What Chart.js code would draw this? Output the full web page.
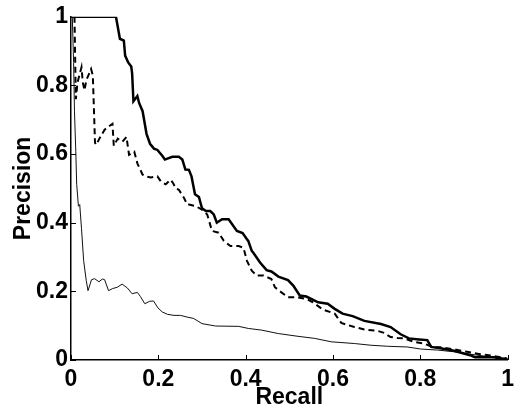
<!DOCTYPE html>
<html>
<head>
<meta charset="utf-8">
<script src="https://cdn.jsdelivr.net/npm/chart.js@4.4.1/dist/chart.umd.min.js"></script>
<style>
html,body{margin:0;padding:0;background:#fff;}
#wrap{width:520px;height:410px;}
</style>
</head>
<body>
<div id="wrap"><canvas id="c" width="520" height="410"></canvas></div>
<script>
// Thick solid curve
const recallA = [0,0.103,0.112,0.121,0.124,0.131,0.138,0.140,0.143,0.152,0.156,0.164,0.173,0.181,0.190,0.198,0.209,0.215,0.232,0.247,0.255,0.262,0.270,0.276,0.284,0.293,0.300,0.309,0.319,0.327,0.334,0.346,0.361,0.380,0.393,0.403,0.406,0.414,0.418,0.433,0.448,0.459,0.475,0.497,0.509,0.524,0.539,0.566,0.588,0.604,0.622,0.645,0.672,0.710,0.732,0.755,0.774,0.797,0.816,0.825,0.846,0.877,0.914,0.925,0.967,1.0];
const precisionA = [1,1,0.936,0.931,0.887,0.867,0.855,0.835,0.754,0.769,0.749,0.725,0.659,0.630,0.616,0.612,0.595,0.584,0.592,0.592,0.584,0.555,0.554,0.535,0.483,0.475,0.442,0.434,0.434,0.424,0.400,0.410,0.410,0.376,0.370,0.352,0.347,0.318,0.312,0.284,0.262,0.258,0.243,0.233,0.217,0.188,0.185,0.168,0.164,0.149,0.135,0.128,0.114,0.105,0.096,0.075,0.063,0.060,0.058,0.038,0.034,0.027,0.014,0.008,0.008,0.002];

// Dashed curve
const recallB = [0.008,0.011,0.015,0.024,0.027,0.031,0.035,0.041,0.046,0.050,0.052,0.055,0.058,0.065,0.077,0.088,0.095,0.098,0.107,0.118,0.127,0.133,0.145,0.152,0.164,0.172,0.183,0.198,0.206,0.217,0.228,0.234,0.240,0.247,0.255,0.259,0.266,0.270,0.286,0.300,0.312,0.323,0.338,0.350,0.365,0.384,0.395,0.403,0.414,0.425,0.441,0.459,0.467,0.482,0.497,0.516,0.539,0.554,0.577,0.604,0.619,0.649,0.672,0.702,0.717,0.732,0.748,0.763,0.786,0.808,0.831,0.846,0.877,0.907,0.937,0.967,1.0];
const precisionB = [1.0,0.760,0.809,0.853,0.809,0.786,0.815,0.833,0.848,0.829,0.751,0.633,0.627,0.645,0.671,0.682,0.688,0.624,0.645,0.636,0.650,0.598,0.607,0.573,0.540,0.535,0.532,0.535,0.520,0.512,0.525,0.515,0.500,0.496,0.480,0.472,0.453,0.453,0.448,0.438,0.424,0.376,0.371,0.347,0.332,0.332,0.327,0.289,0.260,0.246,0.246,0.236,0.212,0.197,0.183,0.183,0.178,0.168,0.147,0.135,0.108,0.096,0.089,0.085,0.079,0.067,0.064,0.063,0.053,0.048,0.037,0.037,0.031,0.024,0.017,0.012,0.004];

// Thin solid curve
const recallC = [0.003,0.006,0.008,0.011,0.013,0.017,0.020,0.024,0.029,0.035,0.039,0.047,0.054,0.064,0.072,0.077,0.086,0.095,0.106,0.117,0.129,0.140,0.152,0.159,0.169,0.180,0.189,0.199,0.209,0.221,0.236,0.251,0.266,0.281,0.300,0.331,0.384,0.406,0.437,0.475,0.520,0.558,0.596,0.649,0.687,0.725,0.770,0.801,0.839,0.877,0.914,0.967,1.0];
const precisionC = [1.0,0.867,0.723,0.607,0.512,0.448,0.453,0.384,0.289,0.231,0.202,0.234,0.237,0.228,0.236,0.234,0.202,0.208,0.212,0.221,0.210,0.193,0.197,0.185,0.164,0.171,0.172,0.152,0.140,0.133,0.130,0.130,0.125,0.121,0.106,0.099,0.098,0.092,0.087,0.077,0.069,0.063,0.053,0.048,0.043,0.040,0.038,0.032,0.029,0.024,0.017,0.008,0.002];

const tickValues = [0, 0.2, 0.4, 0.6, 0.8, 1];
const tickLabels = ['0', '0.2', '0.4', '0.6', '0.8', '1'];
const xTitle = 'Recall';
const yTitle = 'Precision';

function pts(xs, ys){ return xs.map((x,i)=>({x:x, y:ys[i]})); }
function fmt(v){ const i = tickValues.findIndex(t=>Math.abs(t-v)<1e-9); return i>=0 ? tickLabels[i] : ''; }

const FONT = 'Arial, "Liberation Sans", sans-serif';

const innerTicks = {
  id: 'innerTicks',
  afterDraw(chart){
    const ctx = chart.ctx, xs = chart.scales.x, ys = chart.scales.y, a = chart.chartArea;
    ctx.save();
    ctx.strokeStyle = '#000';
    ctx.lineWidth = 1;
    tickValues.forEach(v=>{
      const px = Math.round(xs.getPixelForValue(v)) + 0.5;
      ctx.beginPath(); ctx.moveTo(px, a.bottom); ctx.lineTo(px, a.bottom - 5); ctx.stroke();
      const py = Math.round(ys.getPixelForValue(v)) + 0.5;
      ctx.beginPath(); ctx.moveTo(a.left, py); ctx.lineTo(a.left + 5, py); ctx.stroke();
    });
    ctx.restore();
  }
};

new Chart(document.getElementById('c'), {
  type: 'scatter',
  data: {
    datasets: [
      { data: pts(recallA, precisionA), showLine: true, borderColor: '#000', borderWidth: 2.5, pointRadius: 0, tension: 0 },
      { data: pts(recallB, precisionB), showLine: true, borderColor: '#000', borderWidth: 2, borderDash: [6,4], pointRadius: 0, tension: 0 },
      { data: pts(recallC, precisionC), showLine: true, borderColor: '#111', borderWidth: 1, pointRadius: 0, tension: 0 }
    ]
  },
  options: {
    responsive: false,
    animation: false,
    devicePixelRatio: 1,
    layout: { padding: { top: 14, right: 9, left: 0, bottom: 0 } },
    plugins: { legend: { display: false }, tooltip: { enabled: false } },
    scales: {
      x: {
        type: 'linear', min: 0, max: 1,
        afterBuildTicks(s){ s.ticks = tickValues.map(v=>({value:v})); },
        afterFit(s){ s.height = 50; },
        grid: { display: false, drawTicks: false },
        border: { display: true, color: '#000', width: 1.5 },
        ticks: { color: '#000', padding: 6, callback: fmt, font: { family: FONT, size: 23, weight: 'bold' }, maxRotation: 0, autoSkip: false },
        title: { display: true, text: xTitle, color: '#000', padding: { top: 0, bottom: 1 }, font: { family: FONT, size: 23, weight: 'bold', lineHeight: 1.0 } }
      },
      y: {
        type: 'linear', min: 0, max: 1,
        afterBuildTicks(s){ s.ticks = tickValues.map(v=>({value:v})); },
        afterFit(s){ s.width = 71; },
        grid: { display: false, drawTicks: false },
        border: { display: true, color: '#000', width: 1.5 },
        ticks: { color: '#000', padding: 3, callback: fmt, font: { family: FONT, size: 23, weight: 'bold' }, autoSkip: false },
        title: { display: true, text: yTitle, color: '#000', padding: { top: 12, bottom: 0 }, font: { family: FONT, size: 23, weight: 'bold', lineHeight: 1.0 } }
      }
    }
  },
  plugins: [innerTicks]
});
</script>
</body>
</html>
